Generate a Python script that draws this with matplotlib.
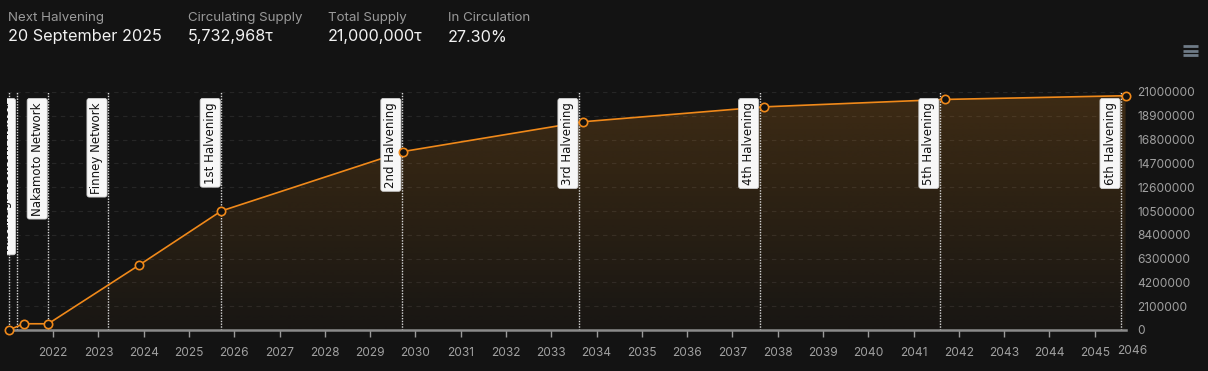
import matplotlib
matplotlib.use("Agg")
import matplotlib.pyplot as plt
import numpy as np
from matplotlib.lines import Line2D
import matplotlib.transforms as mtransforms

# ---------------- data ----------------
header_titles = ["Next Halvening", "Circulating Supply", "Total Supply", "In Circulation"]
header_values = ["20 September 2025", "5,732,968τ", "21,000,000τ", "27.30%"]

supply_dates = [2021.02, 2021.35, 2021.89, 2023.90, 2025.71, 2029.73, 2033.70, 2037.69, 2041.69, 2045.68]
supply_values = [0, 550000, 550000, 5732968, 10500000, 15750000, 18375000, 19687500, 20343750, 20671875]

event_dates = [2021.02, 2021.19, 2021.89, 2023.21, 2025.71, 2029.70, 2033.61, 2037.60, 2041.58, 2045.58]
event_names = ["", "Kusanagi Network Halted", "Nakamoto Network", "Finney Network",
               "1st Halvening", "2nd Halvening", "3rd Halvening", "4th Halvening",
               "5th Halvening", "6th Halvening"]

year_ticks = list(range(2022, 2046))
last_year_label = "2046"
y_ticks = [0, 2100000, 4200000, 6300000, 8400000, 10500000, 12600000, 14700000,
           16800000, 18900000, 21000000]

# ---------------- style ----------------
BG = "#131313"
ORANGE = "#f0891a"
W, H = 1208, 371
fig = plt.figure(figsize=(W / 100, H / 100), dpi=100, facecolor=BG)

x_left, x_right = 7, 1126
y_top, y_bot = 92, 330
ax = fig.add_axes([x_left / W, 1 - y_bot / H, (x_right - x_left) / W, (y_bot - y_top) / H])
ax.set_facecolor(BG)
ax.set_xlim(2020.98, 2045.69)
ax.set_ylim(0, 21000000)

# grid
for yv in y_ticks[1:]:
    ax.axhline(yv, color="#262626", lw=0.8, ls=(0, (4, 4)), zorder=0)

# gradient fill under line
poly = ax.fill_between(supply_dates, supply_values, 0, color="none", lw=0)
grad = np.zeros((256, 2, 4))
col = matplotlib.colors.to_rgb("#f7931a")
grad[..., 0], grad[..., 1], grad[..., 2] = col
alpha = np.linspace(0.19, 0.025, 256)
grad[..., 3] = alpha[:, None]
im = ax.imshow(grad, extent=[2020.98, 2045.69, 0, 21000000], aspect="auto",
               origin="upper", zorder=1, interpolation="bilinear")
im.set_clip_path(poly.get_paths()[0], transform=ax.transData)

# event lines & labels
for d, name in zip(event_dates, event_names):
    ax.axvline(d, color="#d8d8d8", lw=1.0, ls=(0, (1, 1)), zorder=2)
    if name:
        t = ax.annotate(name, xy=(d, 1), xycoords=("data", "axes fraction"),
                        xytext=(-4.5, -10), textcoords="offset pixels",
                        rotation=90, ha="right", va="top", fontsize=8.5,
                        family="DejaVu Sans", color="#111111", zorder=5,
                        annotation_clip=False,
                        bbox=dict(boxstyle="round,pad=0.3,rounding_size=0.2",
                                  fc="#f7f7f7", ec="#cfcfcf", lw=0.6))
        t.set_clip_on(True)
        t.set_clip_path(ax.patch)

# line + markers
ax.plot(supply_dates, supply_values, color=ORANGE, lw=1.2, zorder=4, clip_on=False)
ax.plot(supply_dates, supply_values, ls="none", marker="o", ms=6, mfc="#111111",
        mec=ORANGE, mew=1.2, zorder=6, clip_on=False)

# axes styling
for s in ["top", "left", "right"]:
    ax.spines[s].set_visible(False)
ax.spines["bottom"].set_color("#8a8a8a")
ax.spines["bottom"].set_linewidth(1.8)
ax.spines["bottom"].set_zorder(3)

ax.set_xticks(year_ticks)
ax.set_xticklabels([str(y) for y in year_ticks])
ax.tick_params(axis="x", colors="#9a9a9a", length=5, width=1, pad=7,
               labelsize=8.6, labelcolor="#a0a0a0")
for lab in ax.get_xticklabels():
    lab.set_family("Inter")
t2046 = ax.text(1, 0, last_year_label, ha="center", va="top",
                fontsize=8.6, color="#a0a0a0", family="Inter",
                transform=ax.transAxes + mtransforms.ScaledTranslation(6 / 100, -15 / 100, fig.dpi_scale_trans))

ax.yaxis.tick_right()
ax.set_yticks(y_ticks)
ax.set_yticklabels([str(v) for v in y_ticks])
ax.tick_params(axis="y", length=0, pad=8, labelsize=8.6, labelcolor="#a0a0a0")
for lab in ax.get_yticklabels():
    lab.set_family("Inter")

# header
cols_x = [8, 188, 328, 448]
for x, t, v in zip(cols_x, header_titles, header_values):
    fig.text(x / W, 1 - 18 / H, t, ha="left", va="center", fontsize=9.6,
             color="#9a9a9a", family="Inter")
    fig.text(x / W, 1 - 37 / H, v, ha="left", va="center", fontsize=11.7,
             color="#f2f2f2", family="Inter")

# hamburger icon
for yy in [46, 50.5, 55]:
    fig.add_artist(Line2D([1183 / W, 1198 / W], [1 - yy / H, 1 - yy / H],
                          color="#6f7b87", lw=2.0, solid_capstyle="butt"))

fig.savefig("out.png", dpi=100, facecolor=BG)
